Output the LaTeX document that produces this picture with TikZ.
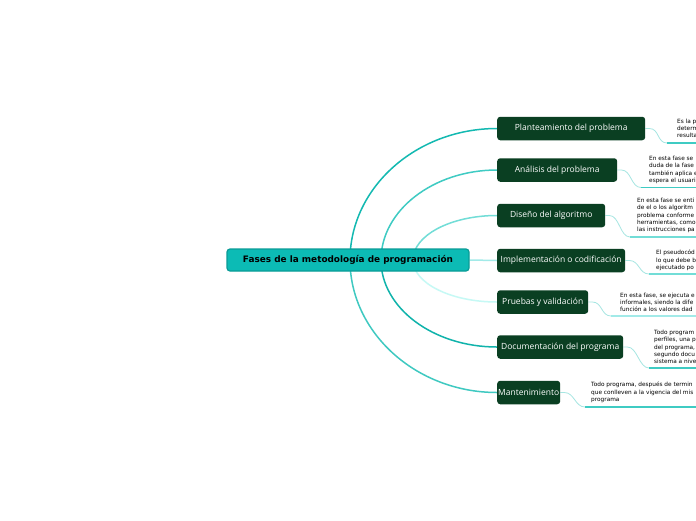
\documentclass[tikz,border=0pt]{standalone}
\usepackage{fontspec}
\usetikzlibrary{backgrounds}
\newfontfamily\descfont{DejaVu Sans}
\newfontfamily\brfont{Open Sans}
\newfontfamily\cenfont{DejaVu Sans}
\definecolor{brgreen}{HTML}{0A3F22}
\definecolor{centeal}{HTML}{0CBBB5}
\definecolor{cenborder}{HTML}{0A9C97}
\definecolor{cA}{HTML}{13B9B1}
\definecolor{cB}{HTML}{3FCBC3}
\definecolor{cC}{HTML}{72DDD7}
\definecolor{cD}{HTML}{A2EAE8}
\definecolor{cE}{HTML}{C6F9F5}
\definecolor{cF}{HTML}{10B3AB}
\definecolor{cG}{HTML}{3FC9C1}
\definecolor{subline}{HTML}{A6E6E2}
\begin{document}
\begin{tikzpicture}[x=1pt,y=-1pt,
  brbox/.style={fill=brgreen, rounded corners=3pt, minimum height=23.5pt, inner sep=0pt,
    anchor=west, text=white, font=\brfont\fontsize{8.5}{9}\selectfont},
  desc/.style={anchor=west, inner sep=0pt, align=left,
    font=\descfont\fontsize{5.8}{7.3}\selectfont, text=black},
  mainline/.style={line width=1.5pt},
  subcurve/.style={line width=0.8pt, draw=subline},
  underl/.style={line width=1.2pt}]
\useasboundingbox (0,0) rectangle (696,520);
\clip (0,0) rectangle (696,520);

\node[draw=cenborder, fill=centeal, line width=1.2pt, rounded corners=3pt,
  minimum width=242pt, minimum height=22pt, inner sep=0pt,
  font=\cenfont\bfseries\fontsize{8.9}{10}\selectfont] (cen) at (348,260)
  {Fases de la metodología de programación};

\node[brbox, minimum width=148pt] (b1) at (497,128.5) {Planteamiento del problema};
\node[brbox, minimum width=120pt] (b2) at (497,170) {Análisis del problema};
\node[brbox, minimum width=108pt] (b3) at (497,215.5) {Diseño del algoritmo};
\node[brbox, minimum width=128pt] (b4) at (497,260.5) {Implementación o codificación};
\node[brbox, minimum width=91pt] (b5) at (497,302) {Pruebas y validación};
\node[brbox, minimum width=126pt] (b6) at (497,347) {Documentación del programa};
\node[brbox, minimum width=63pt] (b7) at (497,392.5) {Mantenimiento};

\node[desc] (d1) at (677,128.5) {Es la p\\determ\\resulta};
\node[desc] (d2) at (649,170) {En esta fase se\\duda de la fase\\también aplica e\\espera el usuari};
\node[desc] (d3) at (637,215.5) {En esta fase se enti\\de el o los algoritm\\problema conforme\\herramientas, como\\las instrucciones pa};
\node[desc] (d4) at (656,260.5) {El pseudocód\\lo que debe b\\ejecutado po};
\node[desc] (d5) at (620,302.5) {En esta fase, se ejecuta e\\informales, siendo la dife\\función a los valores dad};
\node[desc] (d6) at (654,347) {Todo program\\perfiles, una p\\del programa,\\segundo docu\\sistema a nive};
\node[desc] (d7) at (591,392.5) {Todo programa, después de termin\\que conlleven a la vigencia del mis\\programa};

\coordinate (R) at (700,0);
\coordinate (s1) at (350,260);
\coordinate (s2) at (381,260);
\coordinate (s3) at (413,260);
\coordinate (u1) at (667,143);
\coordinate (u2) at (641,187.5);
\coordinate (u3) at (630,237);
\coordinate (u4) at (649,274);
\coordinate (u5) at (611,316);
\coordinate (u6) at (649,368);
\coordinate (u7) at (585,407);

\begin{pgfonlayer}{background}
\fill[white] (0,0) rectangle (696,520);
\draw[mainline, cA] (s1) .. controls (350,187.6) and (416.2,128.5) .. (b1.west);
\draw[mainline, cB] (s2) .. controls (381,210.5) and (433.2,170) .. (b2.west);
\draw[mainline, cC] (s3) .. controls (413,235.3) and (450.8,215.5) .. (b3.west);
\draw[mainline, cD] (cen.east) -- (b4.west);
\draw[mainline, cE] (s3) .. controls (413,283.1) and (450.8,302) .. (b5.west);
\draw[mainline, cF] (s2) .. controls (381,307.9) and (433.2,347) .. (b6.west);
\draw[mainline, cG] (s1) .. controls (350,332.6) and (416.2,392.5) .. (b7.west);

\draw[subcurve] (b1.east) -- ++(4,0) .. controls +(10,0) and +(-10,0) .. (u1);
\draw[subcurve] (b2.east) -- ++(4,0) .. controls +(10,0) and +(-10,0) .. (u2);
\draw[subcurve] (b3.east) -- ++(4,0) .. controls +(10,0) and +(-10,0) .. (u3);
\draw[subcurve] (b4.east) -- ++(4,0) .. controls +(10,0) and +(-10,0) .. (u4);
\draw[subcurve] (b5.east) -- ++(4,0) .. controls +(10,0) and +(-10,0) .. (u5);
\draw[subcurve] (b6.east) -- ++(4,0) .. controls +(10,0) and +(-10,0) .. (u6);
\draw[subcurve] (b7.east) -- ++(4,0) .. controls +(10,0) and +(-10,0) .. (u7);

\draw[underl, cB] (u1) -- (u1 -| R);
\draw[underl, cB] (u2) -- (u2 -| R);
\draw[underl, cC] (u3) -- (u3 -| R);
\draw[underl, cC] (u4) -- (u4 -| R);
\draw[underl, cD] (u5) -- (u5 -| R);
\draw[underl, cB] (u6) -- (u6 -| R);
\draw[underl, cB] (u7) -- (u7 -| R);
\end{pgfonlayer}
\end{tikzpicture}
\end{document}
